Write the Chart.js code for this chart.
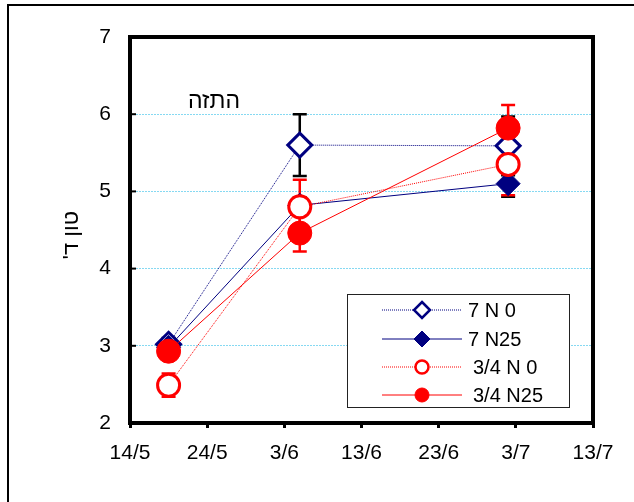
<!DOCTYPE html>
<html><head><meta charset="utf-8">
<script src="https://cdn.jsdelivr.net/npm/chart.js@4.4.0/dist/chart.umd.min.js"></script>
<style>html,body{margin:0;padding:0;background:#fff;overflow:hidden}</style>
</head><body>
<canvas id="c" width="634" height="502"></canvas>
<script>
const sampleDates = ['19/5', '5/6', '2/7'];
const tickLabels = ['14/5', '24/5', '3/6', '13/6', '23/6', '3/7', '13/7'];
const seriesNames = ['7 N 0', '7 N25', '3/4 N 0', '3/4 N25'];
const v7N0 = [3.02, 5.60, 5.59];
const v7N25 = [2.98, 4.82, 5.10];
const v34N0 = [2.49, 4.80, 5.35];
const v34N25 = [2.93, 4.46, 5.82];
const e7N0 = [0.08, 0.40, 0.38];
const e7N25 = [0.08, 0.10, 0.17];
const e34N0 = [0.15, 0.35, 0.40];
const e34N25 = [0.08, 0.24, 0.30];
const yTitle = "טון ד'";
const noteText = 'התזה';

const NAVY = '#000080', RED = '#ff0000';
function dayOf(s) {
  const [d, m] = s.split('/').map(Number);
  return Math.round((Date.UTC(2008, m - 1, d) - Date.UTC(2008, 4, 14)) / 86400000);
}
const xDays = sampleDates.map(dayOf);
const pts = arr => arr.map((v, i) => ({x: xDays[i], y: v}));

const styles = [
  {color: NAVY, err: '#000', style: 'rectRot', fill: '#fff', r: 12, bw: 3, dash: [1, 1], legR: 8},
  {color: NAVY, err: '#000', style: 'rectRot', fill: NAVY, r: 12, bw: 1, dash: [], legR: 8},
  {color: RED, err: RED, style: 'circle', fill: '#fff', r: 11, bw: 3, dash: [1, 1], legR: 6.5},
  {color: RED, err: RED, style: 'circle', fill: RED, r: 12, bw: 1, dash: [], legR: 7}
];
const values = [v7N0, v7N25, v34N0, v34N25];
const errors = [e7N0, e7N25, e34N0, e34N25];

const datasets = values.map((vals, k) => ({
  label: seriesNames[k],
  data: pts(vals),
  errs: errors[k],
  showLine: true,
  borderColor: styles[k].color,
  borderWidth: 1,
  borderDash: styles[k].dash,
  pointStyle: styles[k].style,
  pointRadius: styles[k].r,
  pointHoverRadius: styles[k].r,
  pointBorderWidth: styles[k].bw,
  pointBorderColor: styles[k].color,
  pointBackgroundColor: styles[k].fill,
  order: 4 - k
}));

function drawMarker(ctx, st, x, y, r) {
  ctx.save();
  ctx.beginPath();
  if (st.style === 'rectRot') {
    ctx.moveTo(x, y - r); ctx.lineTo(x + r, y); ctx.lineTo(x, y + r); ctx.lineTo(x - r, y); ctx.closePath();
  } else {
    ctx.arc(x, y, r, 0, Math.PI * 2);
  }
  ctx.fillStyle = st.fill; ctx.fill();
  ctx.lineWidth = st.bw > 1 ? 2.5 : 1; ctx.strokeStyle = st.color; ctx.stroke();
  ctx.restore();
}

const deco = {
  id: 'deco',
  beforeDraw(chart) {
    const ctx = chart.ctx;
    ctx.save();
    ctx.fillStyle = '#fff'; ctx.fillRect(0, 0, chart.width, chart.height);
    ctx.fillStyle = '#000';
    ctx.fillRect(7, 4, 2, chart.height);
    ctx.fillRect(7, 4, chart.width, 2);
    ctx.restore();
  },
  beforeDatasetsDraw(chart) {
    const ctx = chart.ctx, xs = chart.scales.x, ys = chart.scales.y;
    ctx.save();
    ctx.lineWidth = 2.5;
    chart.data.datasets.forEach((ds, k) => {
      ctx.strokeStyle = styles[k].err;
      ds.data.forEach((p, i) => {
        const e = ds.errs[i];
        const x = xs.getPixelForValue(p.x);
        const y1 = ys.getPixelForValue(p.y - e), y2 = ys.getPixelForValue(p.y + e);
        ctx.beginPath();
        ctx.moveTo(x, y1); ctx.lineTo(x, y2);
        ctx.moveTo(x - 7, y1); ctx.lineTo(x + 7, y1);
        ctx.moveTo(x - 7, y2); ctx.lineTo(x + 7, y2);
        ctx.stroke();
      });
    });
    ctx.restore();
  },
  afterDatasetsDraw(chart) {
    const ctx = chart.ctx, a = chart.chartArea, ys = chart.scales.y;
    ctx.save();
    // frame
    ctx.strokeStyle = '#000'; ctx.lineWidth = 4;
    ctx.strokeRect(a.left, a.top, a.right - a.left, a.bottom - a.top);
    // inward y ticks
    ctx.lineWidth = 2;
    ys.ticks.forEach(t => {
      const y = ys.getPixelForValue(t.value);
      ctx.beginPath(); ctx.moveTo(a.left, y); ctx.lineTo(a.left + 6, y); ctx.stroke();
    });
    // legend
    const L = 347, T = 294, R = 569, B = 407;
    ctx.fillStyle = '#fff'; ctx.fillRect(L, T, R - L, B - T);
    ctx.lineWidth = 1; ctx.strokeStyle = '#222';
    ctx.strokeRect(L + 0.5, T + 0.5, R - L, B - T);
    const rows = [310, 339, 367, 395];
    const tx = [468, 468, 473, 473];
    ctx.font = '20px Arial, "Liberation Sans", sans-serif';
    ctx.textBaseline = 'middle'; ctx.textAlign = 'left';
    rows.forEach((y, k) => {
      const st = styles[k];
      ctx.save();
      ctx.strokeStyle = st.color; ctx.lineWidth = 1; ctx.setLineDash(st.dash);
      ctx.beginPath(); ctx.moveTo(382, y); ctx.lineTo(462, y); ctx.stroke();
      ctx.restore();
      drawMarker(ctx, st, 422, y, st.legR);
      ctx.fillStyle = '#000';
      ctx.fillText(seriesNames[k], tx[k], y + 1);
    });
    // annotation
    ctx.fillStyle = '#000';
    ctx.direction = 'rtl';
    ctx.textAlign = 'center'; ctx.textBaseline = 'alphabetic';
    ctx.font = '23px Arial, "Liberation Sans", sans-serif';
    ctx.fillText(noteText, 214, 108);
    // y title
    ctx.font = '22px Arial, "Liberation Sans", sans-serif';
    ctx.translate(72, 235);
    ctx.rotate(-Math.PI / 2);
    ctx.textBaseline = 'middle';
    ctx.fillText(yTitle, 0, 0);
    ctx.restore();
  }
};

new Chart(document.getElementById('c'), {
  type: 'scatter',
  data: {datasets},
  options: {
    responsive: false,
    animation: false,
    events: [],
    layout: {padding: {left: 0, top: 37, right: 41, bottom: 0}},
    plugins: {legend: {display: false}, tooltip: {enabled: false}},
    scales: {
      x: {
        type: 'linear', min: 0, max: 60,
        afterFit(s) { s.height = 79; },
        border: {display: false},
        grid: {drawOnChartArea: false, drawTicks: true, tickLength: 5, tickWidth: 3, tickColor: '#000'},
        ticks: {
          stepSize: 10, padding: 13, color: '#000',
          font: {family: 'Arial, "Liberation Sans", sans-serif', size: 21},
          maxRotation: 0, autoSkip: false,
          callback: (v, i) => tickLabels[i]
        }
      },
      y: {
        min: 2, max: 7,
        afterFit(s) { s.width = 130; },
        border: {display: false, dash: [2, 1]},
        grid: {
          drawTicks: false,
          color: c => (c.tick && c.tick.value > 2 && c.tick.value < 7) ? '#86d9f2' : 'rgba(0,0,0,0)',
          lineWidth: 1
        },
        ticks: {
          stepSize: 1, padding: 19, color: '#000',
          font: {family: 'Arial, "Liberation Sans", sans-serif', size: 21}
        }
      }
    }
  },
  plugins: [deco]
});
</script>
</body></html>
